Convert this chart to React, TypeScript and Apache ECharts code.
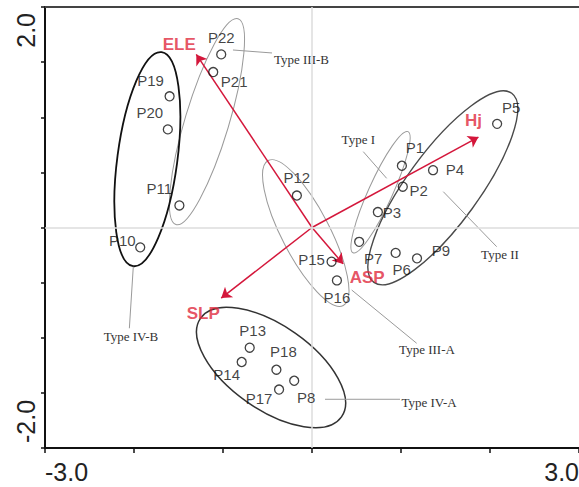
import React, { useEffect, useRef } from "react";
import * as echarts from "echarts";

// ---- data ----
const pointNames = ["P1","P2","P3","P4","P5","P6","P7","P8","P9","P10","P11","P12","P13","P14","P15","P16","P17","P18","P19","P20","P21","P22"];
const pointX = [1.01, 1.02, 0.74, 1.36, 2.08, 0.94, 0.53, -0.20, 1.18, -1.93, -1.49, -0.17, -0.70, -0.79, 0.22, 0.28, -0.37, -0.40, -1.60, -1.62, -1.11, -1.02];
const pointY = [0.56, 0.37, 0.14, 0.52, 0.94, -0.23, -0.13, -1.39, -0.28, -0.18, 0.20, 0.29, -1.09, -1.22, -0.31, -0.48, -1.47, -1.29, 1.19, 0.89, 1.41, 1.57];

const envNames = ["ELE", "ASP", "SLP", "Hj"];
const envX = [-1.30, 0.35, -1.02, 1.87];
const envY = [1.57, -0.33, -0.64, 0.82];

const groupNames = ["Type I", "Type II", "Type III-A", "Type III-B", "Type IV-A", "Type IV-B"];
const groupCX = [0.77, 1.47, -0.07, -1.18, -0.46, -1.85];
const groupCY = [0.32, 0.36, -0.05, 0.96, -1.27, 0.62];

const xTickLabels = ["-3.0", "3.0"];
const yTickLabels = ["-2.0", "2.0"];

// ---- layout / style (not data) ----
const pointLabelOffsets = [
  [13, -18], [16, 4], [14, 0], [22, -1], [14, -16], [6, 17], [14, 17], [12, 17], [24, -8], [-18, -7], [-20, -17],
  [0, -18], [3, -17], [-15, 12], [-20, -2], [0, 17], [-20, 9], [7, -18], [-19, -16], [-18, -17], [21, 9], [0, -17],
];
const envLabelOffsets = [[-17, -10], [24, 14], [-18, 15], [-5, -17]];
// semi-major px, semi-minor px, angle deg, stroke, width
const ellipseShapes = [
  [66.5, 12, 65.6, "#9a9a9a", 1],
  [117, 36, 53.9, "#4a4a4a", 1.4],
  [81.6, 24, -62.6, "#9a9a9a", 1],
  [107.5, 22, 73.2, "#9a9a9a", 1],
  [86, 42, -35, "#333333", 1.5],
  [108, 30, 82.4, "#111111", 1.8],
];
// leader line start (x,y), end (x,y), text position (x,y), in axis units
const annotationLayout = [
  [0.576, 0.688, 0.839, 0.446, 0.52, 0.794],
  [1.475, 0.325, 2.075, -0.174, 2.112, -0.249],
  [0.446, -0.567, 1.176, -1.05, 1.292, -1.111],
  [-0.888, 1.61, -0.449, 1.583, -0.118, 1.52],
  [0.146, -1.558, 0.989, -1.558, 1.315, -1.583],
  [-2.008, -0.356, -2.052, -0.914, -2.034, -0.993],
];

const RED = "#d4173b";
const RED_TEXT = "#e0283c";
const SANS = '"Liberation Sans", Arial, sans-serif';
const SERIF = '"Liberation Serif", "Times New Roman", serif';

export default function App() {
  const ref = useRef<HTMLDivElement>(null);

  useEffect(() => {
    if (!ref.current) return;
    const chart = echarts.init(ref.current, null, { renderer: "svg" });

    const option: any = {
      animation: false,
      backgroundColor: "#ffffff",
      grid: { left: 45, right: 0, top: 7, bottom: 39 },
      xAxis: [
        {
          type: "value", min: -3, max: 3, interval: 1, position: "bottom",
          axisLine: { show: true, onZero: false, lineStyle: { color: "#111", width: 2 } },
          axisTick: { show: true, length: 5, lineStyle: { color: "#111", width: 1.5 } },
          axisLabel: { show: false }, splitLine: { show: false },
        },
        {
          type: "value", min: -3, max: 3, interval: 1, position: "top",
          axisLine: { show: true, onZero: false, lineStyle: { color: "#444", width: 2 } },
          axisTick: { show: false }, axisLabel: { show: false }, splitLine: { show: false },
        },
      ],
      yAxis: {
        type: "value", min: -2, max: 2, interval: 0.5,
        axisLine: { show: true, onZero: false, lineStyle: { color: "#111", width: 2 } },
        axisTick: { show: true, length: 4, lineStyle: { color: "#111", width: 1.5 } },
        axisLabel: { show: false }, splitLine: { show: false },
      },
      series: [
        {
          type: "custom",
          name: "groups",
          xAxisIndex: 0,
          z: 2,
          data: groupNames.map((n, i) => ({ name: n, value: [groupCX[i], groupCY[i]] })),
          renderItem: (params: any, api: any) => {
            const i = params.dataIndex;
            const c = api.coord([api.value(0), api.value(1)]);
            const s = ellipseShapes[i];
            return {
              type: "ellipse",
              x: c[0], y: c[1],
              rotation: (s[2] as number) * Math.PI / 180,
              shape: { cx: 0, cy: 0, rx: s[0], ry: s[1] },
              style: { fill: "none", stroke: s[3], lineWidth: s[4] },
            };
          },
          markLine: {
            silent: true, symbol: ["none", "none"], label: { show: false },
            lineStyle: { color: "#dcdcdc", type: "solid", width: 1.5 },
            data: [{ xAxis: 0 }, { yAxis: 0 }],
          },
        },
        {
          type: "custom",
          name: "annotations",
          xAxisIndex: 0,
          z: 3,
          data: annotationLayout.map((a) => a),
          renderItem: (params: any, api: any) => {
            const i = params.dataIndex;
            const p1 = api.coord([api.value(0), api.value(1)]);
            const p2 = api.coord([api.value(2), api.value(3)]);
            const pt = api.coord([api.value(4), api.value(5)]);
            return {
              type: "group",
              children: [
                { type: "line", shape: { x1: p1[0], y1: p1[1], x2: p2[0], y2: p2[1] }, style: { stroke: "#9a9a9a", lineWidth: 1 } },
                {
                  type: "text", x: pt[0], y: pt[1],
                  style: { text: groupNames[i], fill: "#333", fontSize: 13, fontFamily: SERIF, align: "center", verticalAlign: "middle" },
                },
              ],
            };
          },
        },
        {
          type: "lines",
          name: "env",
          coordinateSystem: "cartesian2d",
          xAxisIndex: 0,
          z: 4,
          symbol: ["none", "arrow"],
          symbolSize: 10,
          lineStyle: { color: RED, width: 1.5, opacity: 1 },
          data: envNames.map((n, i) => ({ name: n, coords: [[0, 0], [envX[i], envY[i]]] })),
        },
        {
          type: "scatter",
          name: "envLabels",
          xAxisIndex: 0,
          z: 5,
          symbolSize: 0,
          silent: true,
          data: envNames.map((n, i) => ({
            name: n, value: [envX[i], envY[i]],
            label: { offset: envLabelOffsets[i] },
          })),
          label: {
            show: true, position: "inside", formatter: "{b}", color: RED_TEXT,
            fontSize: 17, fontWeight: "bold", fontFamily: SANS, align: "center", verticalAlign: "middle",
          },
        },
        {
          type: "scatter",
          name: "sites",
          xAxisIndex: 0,
          z: 6,
          symbol: "circle",
          symbolSize: 9,
          itemStyle: { color: "rgba(0,0,0,0)", borderColor: "#111", borderWidth: 1.3 },
          data: pointNames.map((n, i) => ({
            name: n, value: [pointX[i], pointY[i]],
            label: { offset: pointLabelOffsets[i] },
          })),
          label: {
            show: true, position: "inside", formatter: "{b}", color: "#111",
            fontSize: 15, fontFamily: SANS, align: "center", verticalAlign: "middle",
          },
        },
      ],
    };
    chart.setOption(option);

    const pMin = chart.convertToPixel({ gridIndex: 0 }, [-3, -2]) as number[];
    const pMax = chart.convertToPixel({ gridIndex: 0 }, [3, 2]) as number[];
    const tickFont = { fontSize: 25, fontFamily: SANS, fill: "#222" };
    chart.setOption({
      graphic: [
        { type: "text", x: pMin[0], y: pMin[1] + 24, style: { ...tickFont, text: xTickLabels[0], align: "left", verticalAlign: "middle" } },
        { type: "text", x: pMax[0], y: pMin[1] + 24, style: { ...tickFont, text: xTickLabels[1], align: "right", verticalAlign: "middle" } },
        { type: "text", x: pMin[0] - 19, y: pMin[1] - 5, rotation: Math.PI / 2, style: { ...tickFont, text: yTickLabels[0], align: "left", verticalAlign: "middle" } },
        { type: "text", x: pMin[0] - 19, y: pMax[1] + 6, rotation: Math.PI / 2, style: { ...tickFont, text: yTickLabels[1], align: "right", verticalAlign: "middle" } },
      ],
    });

    return () => chart.dispose();
  }, []);

  return (
    <div
      ref={ref}
      style={{ position: "fixed", left: 0, top: 0, width: 579, height: 487, background: "#fff" }}
    />
  );
}
